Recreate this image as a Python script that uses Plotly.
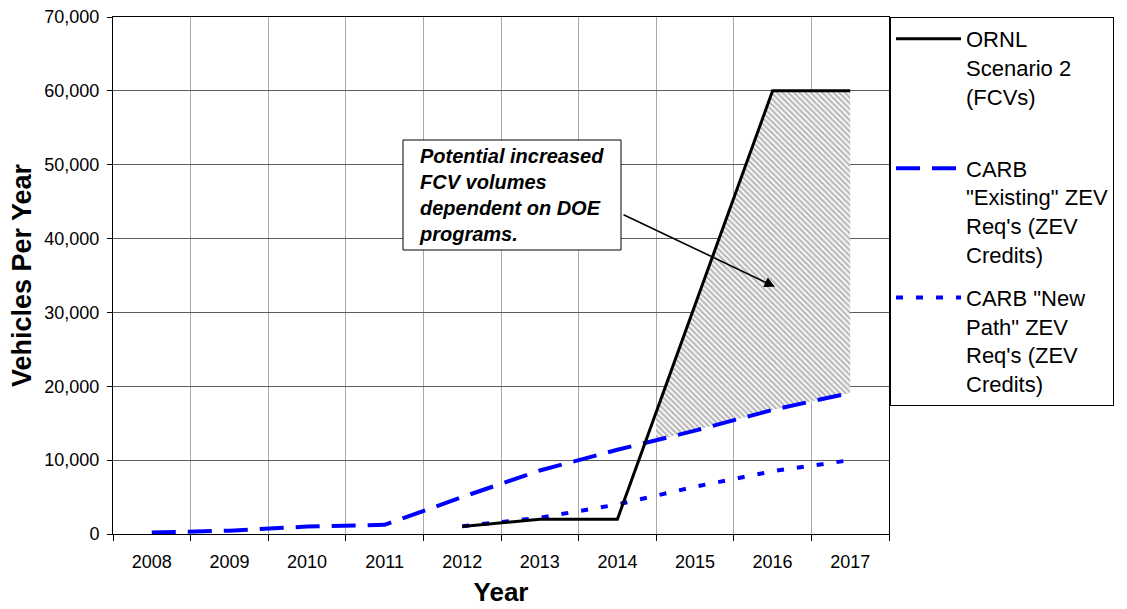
import numpy as np
import plotly.graph_objects as go

# ---- data ----
years = [2008, 2009, 2010, 2011, 2012, 2013, 2014, 2015, 2016, 2017]
year_labels = [str(y) for y in years]

ornl_years = [2012, 2013, 2014, 2015, 2016, 2017]
ornl_fcv = [1000, 2000, 2000, 31000, 60000, 60000]

carb_existing_years = years
carb_existing = [200, 450, 1000, 1250, 5000, 8600, 11400, 14000, 16800, 19100]

carb_newpath_years = [2012, 2013, 2014, 2015, 2016, 2017]
carb_newpath = [1050, 2200, 4000, 6400, 8500, 10000]

hatch_start = 2014.5   # left edge of the hatched "potential" band (category boundary)

y_ticks = [0, 10000, 20000, 30000, 40000, 50000, 60000, 70000]

FONT = "Arial, Liberation Sans, sans-serif"

# ---- hatched band between ORNL and CARB "Existing" from hatch_start on ----
up_x = [hatch_start] + [x for x in ornl_years if x > hatch_start]
up_y = [float(np.interp(hatch_start, ornl_years, ornl_fcv))] + \
       [v for x, v in zip(ornl_years, ornl_fcv) if x > hatch_start]
lo_x = [hatch_start] + [x for x in carb_existing_years if x > hatch_start]
lo_y = [float(np.interp(hatch_start, carb_existing_years, carb_existing))] + \
       [v for x, v in zip(carb_existing_years, carb_existing) if x > hatch_start]
band_x = up_x + lo_x[::-1] + [up_x[0]]
band_y = up_y + lo_y[::-1] + [up_y[0]]

fig = go.Figure()

fig.add_trace(go.Scatter(
    x=band_x, y=band_y, mode="lines", fill="toself",
    line=dict(width=0, color="rgba(0,0,0,0)"),
    fillcolor="white",
    fillpattern=dict(shape="\\", fgcolor="#737373", bgcolor="white",
                     size=4, solidity=0.55),
    showlegend=False, hoverinfo="skip"))

fig.add_trace(go.Scatter(
    x=carb_existing_years, y=carb_existing, mode="lines",
    name='CARB<br>"Existing" ZEV<br>Req\'s (ZEV<br>Credits)',
    line=dict(color="#0000ff", width=4, dash="24px,12px"),
    legendrank=2, legendgroup="b"))

fig.add_trace(go.Scatter(
    x=carb_newpath_years, y=carb_newpath, mode="lines",
    name='CARB "New<br>Path" ZEV<br>Req\'s (ZEV<br>Credits)',
    line=dict(color="#0000ff", width=4, dash="7px,13px"),
    legendrank=3, legendgroup="c"))

fig.add_trace(go.Scatter(
    x=ornl_years, y=ornl_fcv, mode="lines",
    name="ORNL<br>Scenario 2<br>(FCVs)<br> ",
    line=dict(color="black", width=3),
    legendrank=1, legendgroup="a"))

# annotation box + arrow
x0p, x1p = (403 - 113) / 776, (621 - 113) / 776
y0p, y1p = (534 - 250) / 517, (534 - 140) / 517
fig.add_shape(type="rect", xref="paper", yref="paper",
              x0=x0p, x1=x1p, y0=y0p, y1=y1p,
              line=dict(color="black", width=1), fillcolor="white", layer="above")
fig.add_annotation(
    xref="paper", yref="paper", x=(417 - 113) / 776, y=(534 - 195) / 517,
    xanchor="left", yanchor="middle", align="left", showarrow=False,
    text="Potential increased<br>FCV volumes<br>dependent on DOE<br>programs.",
    font=dict(family=FONT, size=20, color="black", weight="bold", style="italic"))
fig.add_annotation(
    x=2016.03, y=33480, ax=2014.06, ay=43330, axref="x", ayref="y",
    xref="x", yref="y", text="", showarrow=True,
    arrowhead=2, arrowsize=1.3, arrowwidth=1.6, arrowcolor="black")

fig.update_layout(
    width=1127, height=609,
    margin=dict(l=113, r=238, t=17, b=75, autoexpand=False),
    paper_bgcolor="white", plot_bgcolor="white",
    font=dict(family=FONT, color="black"),
    showlegend=True,
    legend=dict(x=(890 - 113) / 776, y=1, xanchor="left", yanchor="top",
                bgcolor="white", bordercolor="black", borderwidth=1,
                font=dict(family=FONT, size=22, color="black"),
                valign="top", itemwidth=65, tracegroupgap=12,
                traceorder="grouped"),
    xaxis=dict(
        range=[2007.5, 2017.5], tickmode="array", tickvals=years,
        ticktext=year_labels, ticks="", showgrid=False, zeroline=False,
        automargin=False,
        tickfont=dict(family=FONT, size=18, color="black"),
        ticklabelstandoff=11,
        showline=True, linecolor="black", linewidth=1, mirror=True,
        minor=dict(tick0=2007.5, dtick=1, ticks="outside", ticklen=6,
                   tickcolor="black", showgrid=True, gridcolor="#a8a8a8",
                   gridwidth=1),
        title=dict(text="<b>Year</b>", standoff=12,
                   font=dict(family=FONT, size=26, color="black"))),
    yaxis=dict(
        range=[0, 70000], tickmode="array", tickvals=y_ticks,
        tickformat=",", ticks="outside", ticklen=5, tickcolor="black",
        showgrid=True, gridcolor="#5c5c5c", gridwidth=1, zeroline=False,
        automargin=False,
        tickfont=dict(family=FONT, size=18, color="black"),
        ticklabelstandoff=4,
        showline=True, linecolor="black", linewidth=1, mirror=True,
        title=dict(text="<b>Vehicles Per Year</b>", standoff=4,
                   font=dict(family=FONT, size=27, color="black"))),
)

fig.write_html("out.html", config={"displayModeBar": False},
               post_script="document.body.style.margin='0';")
